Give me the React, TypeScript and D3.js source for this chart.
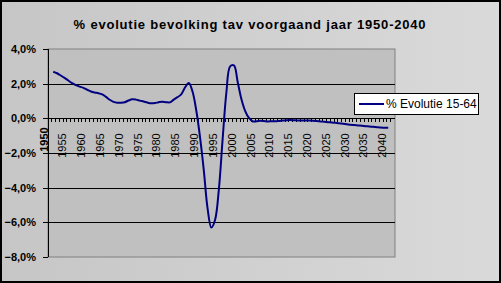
import React from "react";
import * as d3 from "d3";

const title = "% evolutie bevolking tav voorgaand jaar 1950-2040";
const seriesName = "% Evolutie 15-64";
const years: number[] = d3.range(1951, 2041);
const values: number[] = [
  2.69, 2.6, 2.47, 2.33, 2.18, 2.03, 1.92, 1.83, 1.76, 1.65,
  1.55, 1.49, 1.45, 1.38, 1.24, 1.07, 0.95, 0.9, 0.9, 0.93,
  1.03, 1.1, 1.08, 1.02, 0.97, 0.91, 0.87, 0.88, 0.93, 0.96,
  0.93, 0.92, 1.08, 1.22, 1.38, 1.78, 2.04, 1.55, 0.45, -1.1,
  -3.0, -5.2, -6.3, -5.85, -4.1, -1.2, 1.5, 3.0, 3.05, 2.1,
  1.1, 0.42, 0.02, -0.18, -0.17, -0.14, -0.16, -0.18, -0.17, -0.17,
  -0.15, -0.13, -0.11, -0.1, -0.11, -0.12, -0.12, -0.13, -0.13, -0.14,
  -0.16, -0.18, -0.2, -0.22, -0.24, -0.26, -0.28, -0.31, -0.34, -0.37,
  -0.39, -0.41, -0.43, -0.45, -0.47, -0.49, -0.51, -0.53, -0.54, -0.55,
];
const categoryYears: number[] = d3.range(1950, 2041);
const labelYears: number[] = d3.range(1950, 2041, 5);
const yTicks: number[] = [4, 2, 0, -2, -4, -6, -8];

const W = 501;
const H = 283;
const plot = { left: 48, right: 395, top: 49, bottom: 257 };
const font = "'Liberation Sans', Arial, sans-serif";

export default function App() {
  const x = d3.scaleLinear().domain([1949.6, 2041.8]).range([plot.left, plot.right]);
  const y = d3.scaleLinear().domain([-8, 4]).range([plot.bottom, plot.top]);
  const data = years.map((yr, i) => ({ yr, v: values[i] }));
  const line = d3
    .line<{ yr: number; v: number }>()
    .x((d) => x(d.yr))
    .y((d) => y(d.v))
    .curve(d3.curveCatmullRom.alpha(0.5));
  const y0 = y(0);
  const tickBounds = d3
    .range(1950, 2042)
    .map((v) => v - 0.5)
    .filter((v) => x(v) >= plot.left - 0.5 && x(v) <= plot.right + 0.5);

  return (
    <svg
      width={W}
      height={H}
      style={{ position: "absolute", left: 0, top: 0, display: "block" }}
      fontFamily={font}
    >
      <defs>
        <linearGradient id="bg" x1="0" y1="0" x2="1" y2="0">
          <stop offset="0" stopColor="#c6c6c6" />
          <stop offset="1" stopColor="#dadada" />
        </linearGradient>
      </defs>
      <rect x={1} y={1} width={W - 2} height={H - 2} fill="url(#bg)" stroke="#000" strokeWidth={2} />
      <text x={250} y={29} textAnchor="middle" fontSize={13} fontWeight="bold" letterSpacing={0.8} fill="#000">
        {title}
      </text>
      <rect
        x={plot.left}
        y={plot.top}
        width={plot.right - plot.left}
        height={plot.bottom - plot.top}
        fill="#c0c0c0"
        stroke="#808080"
        strokeWidth={1}
      />
      {yTicks
        .filter((t) => t !== 4 && t !== -8)
        .map((t) => (
          <line key={"g" + t} x1={plot.left} x2={plot.right} y1={Math.round(y(t)) + 0.5} y2={Math.round(y(t)) + 0.5} stroke="#000" strokeWidth={1} />
        ))}
      <line x1={plot.left + 0.5} x2={plot.left + 0.5} y1={plot.top} y2={plot.bottom} stroke="#000" />
      {yTicks.map((t) => (
        <g key={"yt" + t}>
          <line x1={plot.left - 5} x2={plot.left} y1={Math.round(y(t)) + 0.5} y2={Math.round(y(t)) + 0.5} stroke="#000" />
          <text x={36} y={y(t) + 4} textAnchor="end" fontSize={11} fontWeight="bold" fill="#000">
            {d3.format(".1f")(t).replace(".", ",") + "%"}
          </text>
        </g>
      ))}
      {tickBounds.map((b) => (
        <line key={"xt" + b} x1={Math.round(x(b)) + 0.5} x2={Math.round(x(b)) + 0.5} y1={Math.round(y0)} y2={Math.round(y0) + 4} stroke="#000" />
      ))}
      {labelYears.map((yr) => {
        const first = yr === categoryYears[0];
        const lx = x(yr) - 6;
        const ly = y0 + (first ? 9 : 15);
        return (
          <text
            key={"xl" + yr}
            transform={`translate(${lx},${ly}) rotate(-90)`}
            textAnchor="end"
            dominantBaseline="central"
            fontSize={11}
            fill="#000"
            fontWeight={first ? "bold" : "normal"}
          >
            {yr}
          </text>
        );
      })}
      <path d={line(data) || ""} fill="none" stroke="#000080" strokeWidth={2} strokeLinejoin="round" />
      <g>
        <rect x={354.5} y={93.5} width={124} height={21} fill="#fff" stroke="#000" />
        <line x1={359} x2={384} y1={104} y2={104} stroke="#000080" strokeWidth={2} />
        <text x={386} y={108} fontSize={12} fill="#000">
          {seriesName}
        </text>
      </g>
    </svg>
  );
}
